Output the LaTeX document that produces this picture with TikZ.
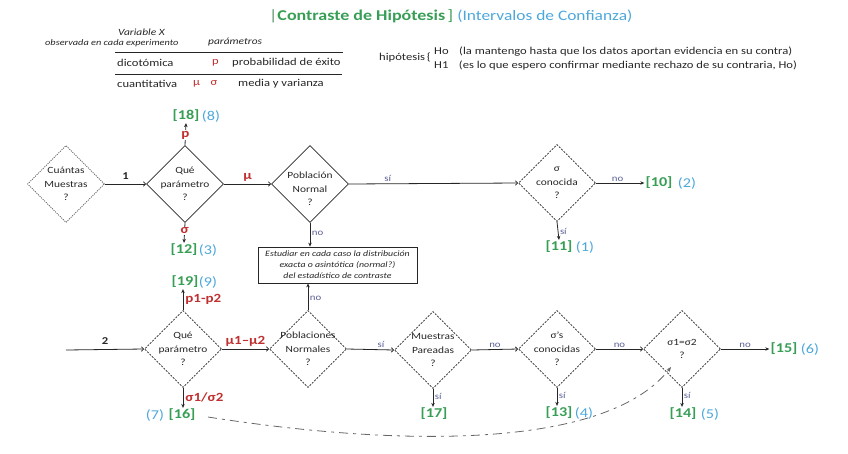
\documentclass[tikz,border=0pt]{standalone}
\usepackage{fontspec}
\setmainfont[FakeStretch=1.2]{Carlito}
\usetikzlibrary{shapes.geometric,arrows.meta}
\definecolor{tgreen}{RGB}{56,158,86}
\definecolor{tblue}{RGB}{77,168,218}
\definecolor{tred}{RGB}{192,48,48}
\definecolor{tslate}{RGB}{90,95,150}
\begin{document}
\begin{tikzpicture}[x=1pt,y=-1pt,
  dtext/.style={font=\fontsize{9.5}{13.5}\selectfont, align=center, text=black!85},
  dia/.style={diamond, draw=black!85, line width=0.7pt, minimum width=77pt, minimum height=77pt, inner sep=0pt},
  dotd/.style={dia, draw=black!70, dash pattern=on 1.1pt off 1.1pt},
  dshd/.style={dia, dash pattern=on 2pt off 1.3pt},
  ent/.style={draw=black!85, line width=0.8pt, -{Straight Barb[length=2.2pt,width=4.5pt]}},
  outa/.style={draw=black!85, line width=0.8pt, -{Stealth[length=4pt,width=3.5pt]}},
  yn/.style={font=\fontsize{9}{10}\selectfont, text=tslate, inner sep=1.5pt},
  redl/.style={font=\fontsize{12.5}{14}\selectfont\bfseries, text=tred, inner sep=1pt},
  numl/.style={font=\fontsize{10.5}{12}\selectfont\bfseries, text=black!85},
  gr/.style={font=\fontsize{13.5}{14}\selectfont\bfseries, text=tgreen, inner sep=1pt},
  bl/.style={font=\fontsize{13.5}{14}\selectfont, text=tblue, inner sep=1pt},
  tab/.style={font=\fontsize{10.5}{12}\selectfont, text=black!85, inner sep=0pt, anchor=west},
  curv/.style={draw=black!60, line width=0.8pt, dash pattern=on 9pt off 5pt on 3pt off 5pt, -{Stealth[length=5pt,width=4pt]}}
]
\useasboundingbox (0,0) rectangle (848,453);

% title
\node[anchor=west, inner sep=0pt, font=\fontsize{15}{19}\selectfont] (title) at (269,16)
  {\textcolor{tgreen!55!gray}{|}\textcolor{tgreen}{\bfseries Contraste de Hipótesis}\,\textcolor{tgreen}{]}\ {\fontsize{14.5}{16}\selectfont\textcolor{tblue}{(Intervalos de Confianza)}}};

% table
\node[tab, font=\fontsize{9.5}{11}\selectfont\itshape] (varx) at (118,32) {Variable X};
\node[tab, font=\fontsize{8.6}{9}\selectfont\itshape] (obs) at (45,43) {observada en cada experimento};
\node[tab, font=\fontsize{9.5}{11}\selectfont\itshape] (parm) at (208,42) {parámetros};
\draw[line width=0.9pt, black!85] (115,52) coordinate (l1a) -- (343,52) coordinate (l1b);
\node[tab] (dic) at (117,63) {dicotómica};
\node[tab, text=tred] (pp) at (212,63) {p};
\node[tab] (prob) at (232,63) {probabilidad de éxito};
\draw[line width=0.9pt, black!85] (115,74) coordinate (l2a) -- (342,74) coordinate (l2b);
\node[tab] (cuan) at (117,84) {cuantitativa};
\node[tab, text=tred] (mus) at (193,84) {µ\quad σ};
\node[tab] (mv) at (238,84) {media y varianza};

% hipotesis
\node[anchor=west, inner sep=0pt, font=\fontsize{10.5}{12}\selectfont, text=black!85] (hip) at (379,58) {hipótesis\,\{};
\node[anchor=west, inner sep=0pt, font=\fontsize{10.5}{12}\selectfont, text=black!85] (h0) at (434,52) {Ho\quad (la mantengo hasta que los datos aportan evidencia en su contra)};
\node[anchor=west, inner sep=0pt, font=\fontsize{10.5}{12}\selectfont, text=black!85] (h1) at (434,66) {H1\quad (es lo que espero confirmar mediante rechazo de su contraria, Ho)};

% row 1
\node[dotd, label={[dtext]center:Cuántas\\Muestras\\?}] (cm) at (66,184) {};
\node[dia, label={[dtext]center:Qué\\parámetro\\?}] (q1) at (185,184) {};
\node[dia, label={[dtext, yshift=-5pt]center:Población\\Normal\\?}] (pn) at (310,184) {};
\node[dshd, label={[dtext]center:σ\\conocida\\?}] (sc) at (557,183) {};

\node[gr] (r18) at (186,116) {[18]};
\node[bl] (c8) at (211,116) {(8)};
\node[gr] (r12) at (184,250) {[12]};
\node[bl] (c3) at (208,250) {(3)};
\node[gr] (r10) at (659,183) {[10]};
\node[bl] (c2) at (687,183) {(2)};
\node[gr] (r11) at (559,247) {[11]};
\node[bl] (c1) at (585,247) {(1)};

\draw[ent] (cm.east) -- node[numl, above=1pt] {1} (q1.west);
\draw[ent] (q1.east) -- node[redl, above=1pt] {µ} (pn.west);
\draw[ent] (pn.east) -- node[yn, above, pos=0.23] {sí} (sc.west);
\draw[outa] (sc.east) -- node[yn, above, pos=0.45] {no} (r10.west);
\draw[outa] (sc.south) -- node[yn, right, pos=0.55] {sí} (r11.north);
\draw[outa] (q1.north) -- node[redl, fill=white, pos=0.45] {p} (r18.south);
\draw[outa] (q1.south) -- node[redl, fill=white, pos=0.4] {σ} (r12.north);

% box
\node[draw=black!85, line width=0.8pt, minimum width=159pt, minimum height=36pt, inner sep=1pt,
  align=center, font=\fontsize{8.2}{11}\selectfont\itshape, text=black!85] (box) at (337.5,265)
  {Estudiar en cada caso la distribución\\exacta o asintótica (normal?)\\del estadístico de contraste};
\draw[outa] (pn.south) -- node[yn, right, pos=0.45] {no} (pn.south |- box.north);

% row 2
\coordinate (s2) at (66,350);
\node[dshd, label={[dtext]center:Qué\\parámetro\\?}] (q2) at (183,349) {};
\node[dshd, label={[dtext]center:Poblaciones\\Normales\\?}] (pns) at (308,349) {};
\node[dshd, label={[dtext]center:Muestras\\Pareadas\\?}] (mp) at (433,350) {};
\node[dshd, label={[dtext]center:σ's\\conocidas\\?}] (scs) at (557,349) {};
\node[dshd, label={[dtext]center:σ1=σ2\\?}] (s12) at (682,349) {};

\node[gr] (r19) at (185,282) {[19]};
\node[bl] (c9) at (208,282) {(9)};
\node[gr] (r16) at (182,415) {[16]};
\node[bl] (c7) at (155,415) {(7)};
\node[gr] (r17) at (434,414) {[17]};
\node[gr] (r13) at (559,413) {[13]};
\node[bl] (c4) at (584,413) {(4)};
\node[gr] (r14) at (683,414) {[14]};
\node[bl] (c5) at (710,414) {(5)};
\node[gr] (r15) at (784,349) {[15]};
\node[bl] (c6) at (810,349) {(6)};

\draw[ent] (s2) -- node[numl, above=1pt] {2} (q2.west);
\draw[outa] (q2.north) -- node[redl, right=1pt] {p1-p2} (q2.north |- r19.south);
\draw[outa] (q2.south) -- node[redl, right=1pt] {σ1/σ2} (q2.south |- r16.north);
\draw[ent] (q2.east) -- node[redl, above=1pt] {µ1--µ2} (pns.west);
\draw[outa] (pns.north) -- node[yn, right, pos=0.45] {no} (pns.north |- box.south);
\draw[ent] (pns.east) -- node[yn, above, pos=0.72] {sí} (mp.west);
\draw[outa] (mp.south) -- node[yn, right, pos=0.4] {sí} (mp.south |- r17.north);
\draw[ent] (mp.east) -- node[yn, above] {no} (scs.west);
\draw[outa] (scs.south) -- node[yn, right, pos=0.4] {sí} (scs.south |- r13.north);
\draw[ent] (scs.east) -- node[yn, above] {no} (s12.west);
\draw[outa] (s12.south) -- node[yn, right, pos=0.4] {sí} (s12.south |- r14.north);
\draw[outa] (s12.east) -- node[yn, above] {no} (r15.west);

% dashed curve
\coordinate (cs) at (208,417);
\coordinate (ce) at (671,367);
\draw[curv] (cs) .. controls (420,450) and (610,445) .. (ce);
\end{tikzpicture}
\end{document}
